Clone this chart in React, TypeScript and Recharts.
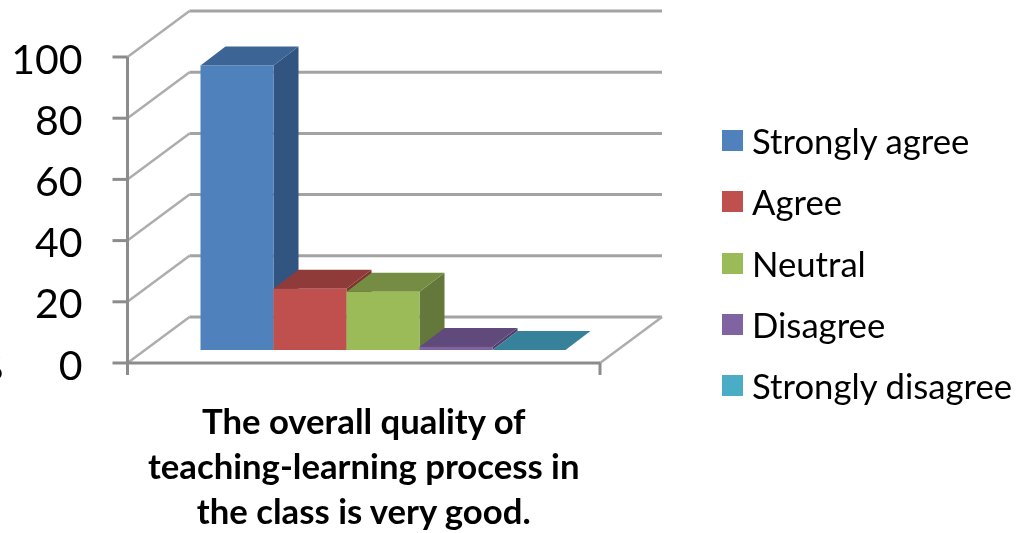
import { BarChart, Bar, XAxis, YAxis, CartesianGrid, Legend } from "recharts";

const categories = ["The overall quality of|teaching-learning process in|the class is very good."];
const seriesNames = ["Strongly agree", "Agree", "Neutral", "Disagree", "Strongly disagree"];
const seriesValues = [93, 20, 19, 1, 0];
const seriesColors = ["#4f81bd", "#c0504d", "#9bbb59", "#8064a2", "#4bacc6"];
const topColors = ["#3c6494", "#8f3b39", "#748d43", "#604a7b", "#38819a"];
const sideColors = ["#325480", "#7d3230", "#63783a", "#4f3d68", "#2f6d82"];
const yTicks = [0, 20, 40, 60, 80, 100];

const data = categories.map((c) => {
  const row: Record<string, string | number> = { name: c };
  seriesNames.forEach((s, i) => (row[s] = seriesValues[i]));
  return row;
});

const FONT = "Lato, 'Open Sans', sans-serif";
const AXIS = "#8c8c8c";
const GRID = "#a3a3a3";

// depth of the chart box and of the bars
const WALL_DX = 62;
const WALL_DY = 46;
const BAR_SHIFT_X = 19;
const BAR_SHIFT_Y = 13;
const BAR_DX = 25;
const BAR_DY = 19;

function WallLine(props: any) {
  const { x1, x2, y1, index } = props;
  const isFloor = index === 0 || y1 > 350;
  return (
    <g>
      <line x1={x1} y1={y1} x2={x1 + WALL_DX} y2={y1 - WALL_DY} stroke="#adadad" strokeWidth={2.5} />
      <line x1={x1 + WALL_DX} y1={y1 - WALL_DY} x2={x2 + WALL_DX} y2={y1 - WALL_DY} stroke={GRID} strokeWidth={3} />
      {isFloor && (
        <g>
          <line x1={x2} y1={y1} x2={x2 + WALL_DX} y2={y1 - WALL_DY} stroke="#adadad" strokeWidth={2.5} />
          <line x1={x2} y1={y1} x2={x2} y2={y1 + 12} stroke={AXIS} strokeWidth={3} />
          <line x1={x1} y1={y1} x2={x1} y2={y1 + 12} stroke={AXIS} strokeWidth={3} />
        </g>
      )}
    </g>
  );
}

function Bar3D(props: any) {
  const { x, y, width, height, seriesIndex } = props;
  const fx = x + BAR_SHIFT_X;
  const fy = y - BAR_SHIFT_Y;
  const r = fx + width;
  const b = fy + height;
  return (
    <g>
      <polygon points={`${r},${fy} ${r + BAR_DX},${fy - BAR_DY} ${r + BAR_DX},${b - BAR_DY} ${r},${b}`} fill={sideColors[seriesIndex]} />
      <polygon points={`${fx},${fy} ${fx + BAR_DX},${fy - BAR_DY} ${r + BAR_DX},${fy - BAR_DY} ${r},${fy}`} fill={topColors[seriesIndex]} />
      <rect x={fx} y={fy} width={width} height={height} fill={seriesColors[seriesIndex]} />
    </g>
  );
}

function TitleTick(props: any) {
  const { x, payload } = props;
  const lines = String(payload.value).split("|");
  return (
    <text textAnchor="middle" fontFamily={FONT} fontWeight={700} fontSize={34.7} fill="#000">
      {lines.map((l, i) => (
        <tspan key={l} x={x} y={434 + i * 45}>
          {l}
        </tspan>
      ))}
    </text>
  );
}

function LegendBox(props: any) {
  return (
    <div style={{ fontFamily: FONT, fontSize: 34.7, color: "#000" }}>
      {props.payload.map((p: any) => (
        <div key={p.value} style={{ display: "flex", alignItems: "center", height: 61.25 }}>
          <span style={{ width: 21, height: 21, background: p.color, marginRight: 9 }} />
          <span style={{ whiteSpace: "nowrap" }}>{p.value}</span>
        </div>
      ))}
    </div>
  );
}

export default function App() {
  return (
    <div style={{ position: "absolute", left: 0, top: 0, width: 1021, height: 533, filter: "blur(0.5px)" }}>
      <BarChart
        width={1021}
        height={533}
        data={data}
        margin={{ top: 57, right: 121, bottom: 0, left: 0 }}
        barGap={0}
        barCategoryGap={54}
      >
        <CartesianGrid vertical={false} horizontal={(p: any) => <WallLine key={p.key} {...p} />} />
        <XAxis dataKey="name" height={170} axisLine={{ stroke: AXIS, strokeWidth: 3 }} tickLine={false} tick={<TitleTick />} interval={0} />
        <YAxis
          width={127.5}
          domain={[0, 100]}
          ticks={yTicks}
          tickSize={15}
          tickMargin={30}
          axisLine={{ stroke: AXIS, strokeWidth: 3 }}
          tickLine={{ stroke: AXIS, strokeWidth: 3 }}
          tick={{ fontFamily: FONT, fontSize: 41, fill: "#000", dy: 2 }}
          label={() => (
            <text x={-21} y={379} fontFamily={FONT} fontSize={30} fill="#000">
              %
            </text>
          )}
        />
        <Legend
          layout="vertical"
          align="right"
          verticalAlign="top"
          width={300}
          itemSorter={null}
          content={<LegendBox />}
          wrapperStyle={{ left: 722, top: 110, width: 300 }}
        />
        {seriesNames.map((s, i) => (
          <Bar
            key={s}
            dataKey={s}
            name={s}
            fill={seriesColors[i]}
            isAnimationActive={false}
            shape={(p: any) => <Bar3D {...p} seriesIndex={i} />}
          />
        ))}
      </BarChart>
    </div>
  );
}
